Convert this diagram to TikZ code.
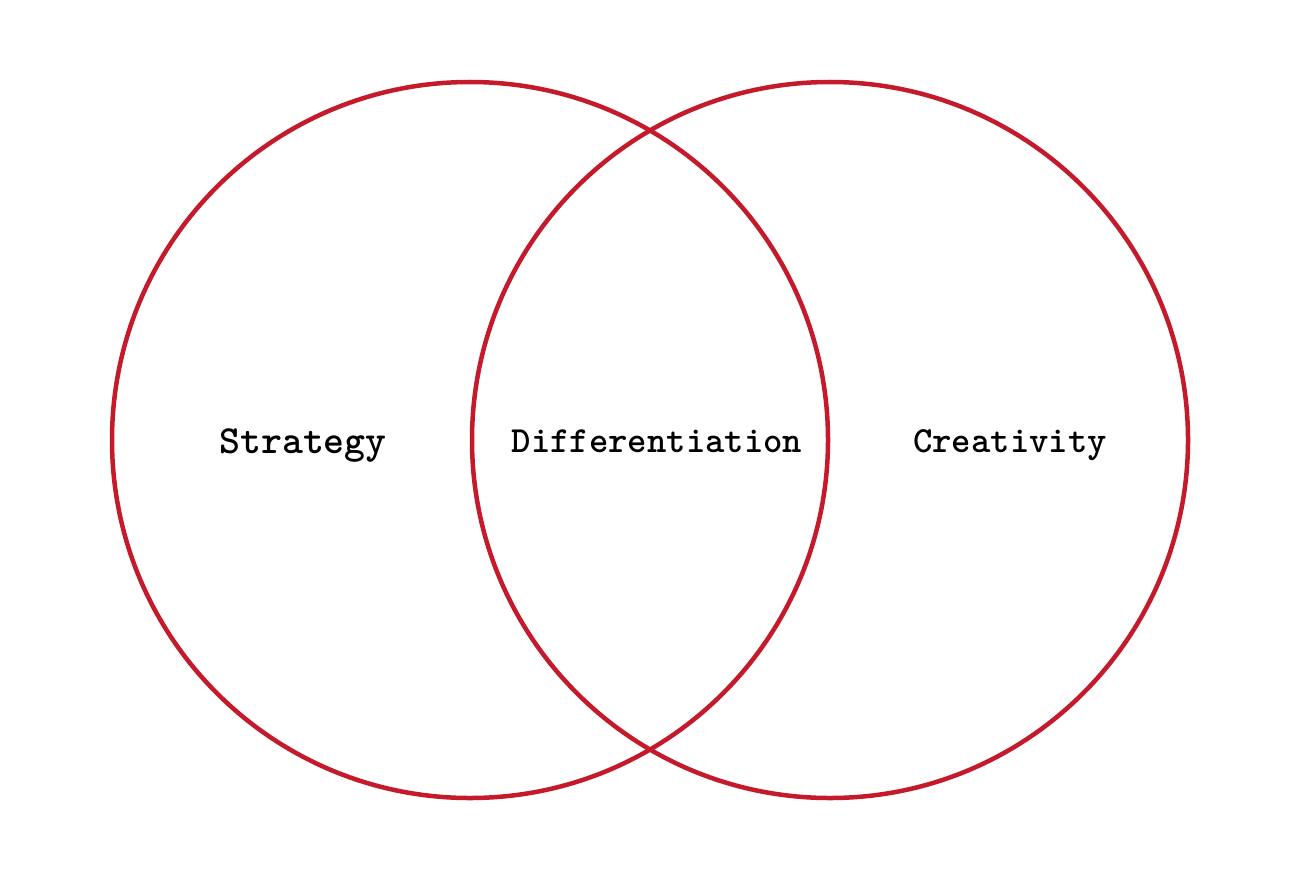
\documentclass[tikz,border=0pt]{standalone}
\usepackage{fontspec}
\definecolor{vred}{HTML}{C41A2C}
\begin{document}
\begin{tikzpicture}[x=1bp,y=-1bp,
  ring/.style={draw=vred,line width=4.5bp},
  lbl/.style={font=\fontsize{37}{40}\selectfont\ttfamily\bfseries,text=black,inner sep=0pt}]
\useasboundingbox (0,0) rectangle (1310,884);
\fill[white] (0,0) rectangle (1310,884);
\node[ring,circle,minimum size=716bp,inner sep=0pt] (left) at (470,440) {};
\node[ring,circle,minimum size=716bp,inner sep=0pt] (right) at (830,440) {};
\node[lbl,font=\fontsize{40}{44}\selectfont\ttfamily\bfseries] (strategy) at (303,446) {Strategy};
\node[lbl] (diff) at (657,441) {Differentiation};
\node[lbl] (creat) at (1010,445) {Creativity};
\end{tikzpicture}
\end{document}
